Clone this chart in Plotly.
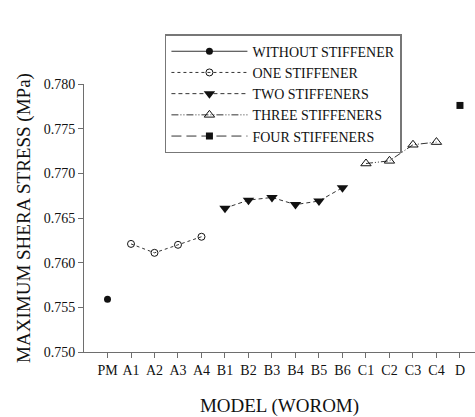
import plotly.graph_objects as go

# Model categories along the x axis
models = ["PM", "A1", "A2", "A3", "A4", "B1", "B2", "B3", "B4", "B5", "B6",
          "C1", "C2", "C3", "C4", "D"]

# Maximum shear stress (MPa) per stiffener configuration
without_x = ["PM"]
without_y = [0.7559]

one_x = ["A1", "A2", "A3", "A4"]
one_y = [0.7621, 0.7611, 0.7620, 0.7629]

two_x = ["B1", "B2", "B3", "B4", "B5", "B6"]
two_y = [0.7661, 0.7670, 0.7673, 0.7665, 0.7669, 0.7684]

three_x = ["C1", "C2", "C3", "C4"]
three_y = [0.7711, 0.7714, 0.7732, 0.7735]

four_x = ["D"]
four_y = [0.7776]

y_ticks = [0.750, 0.755, 0.760, 0.765, 0.770, 0.775, 0.780]

FONT = "Liberation Serif, Times New Roman, serif"
INK = "#111111"
AXIS = "#6e6e6e"

series = [
    ("WITHOUT STIFFENER", without_x, without_y, "solid",
     dict(symbol="circle", size=7, color=INK)),
    ("ONE STIFFENER", one_x, one_y, "dot",
     dict(symbol="circle-open", size=7, color=INK, line=dict(width=1, color=INK))),
    ("TWO STIFFENERS", two_x, two_y, "4px,3px",
     dict(symbol="triangle-down", size=10, color=INK)),
    ("THREE STIFFENERS", three_x, three_y, "7px,2px,1px,2px,1px,2px",
     dict(symbol="triangle-up-open", size=9, color=INK, line=dict(width=1, color=INK))),
    ("FOUR STIFFENERS", four_x, four_y, "10px,5px",
     dict(symbol="square", size=7, color=INK)),
]

fig = go.Figure()
for name, xs, ys, dash, marker in series:
    fig.add_trace(go.Scatter(
        x=xs, y=ys, name=name, mode="lines+markers",
        line=dict(color="#333333", width=1, dash=dash),
        marker=marker,
    ))

fig.update_layout(
    width=475, height=417,
    margin=dict(l=84, r=0, t=84, b=55),
    paper_bgcolor="white", plot_bgcolor="white",
    font=dict(family=FONT, size=14, color=INK),
    showlegend=True,
    legend=dict(
        x=0.207, y=1.186, xanchor="left", yanchor="top",
        bgcolor="white", bordercolor="#777777", borderwidth=1.5,
        font=dict(family=FONT, size=14, color=INK),
        tracegroupgap=0, itemwidth=76,
    ),
    xaxis=dict(
        type="category", categoryorder="array", categoryarray=models,
        range=[-1.0, 15.64],
        showline=True, linecolor=AXIS, linewidth=1,
        ticks="outside", ticklen=5, tickcolor=AXIS, tickwidth=1,
        showgrid=False, zeroline=False,
        tickfont=dict(family=FONT, size=14, color=INK),
        title=dict(text="MODEL (WOROM)", standoff=26,
                   font=dict(family=FONT, size=19, color=INK)),
    ),
    yaxis=dict(
        range=[0.750, 0.780],
        tickvals=y_ticks, tickformat=".3f",
        showline=True, linecolor=AXIS, linewidth=1,
        ticks="outside", ticklen=5, tickcolor=AXIS, tickwidth=1,
        showgrid=False, zeroline=False,
        tickfont=dict(family=FONT, size=14, color=INK),
        title=dict(text="MAXIMUM SHERA STRESS (MPa)", standoff=8,
                   font=dict(family=FONT, size=19, color=INK)),
    ),
)

fig.write_html("out.html")
